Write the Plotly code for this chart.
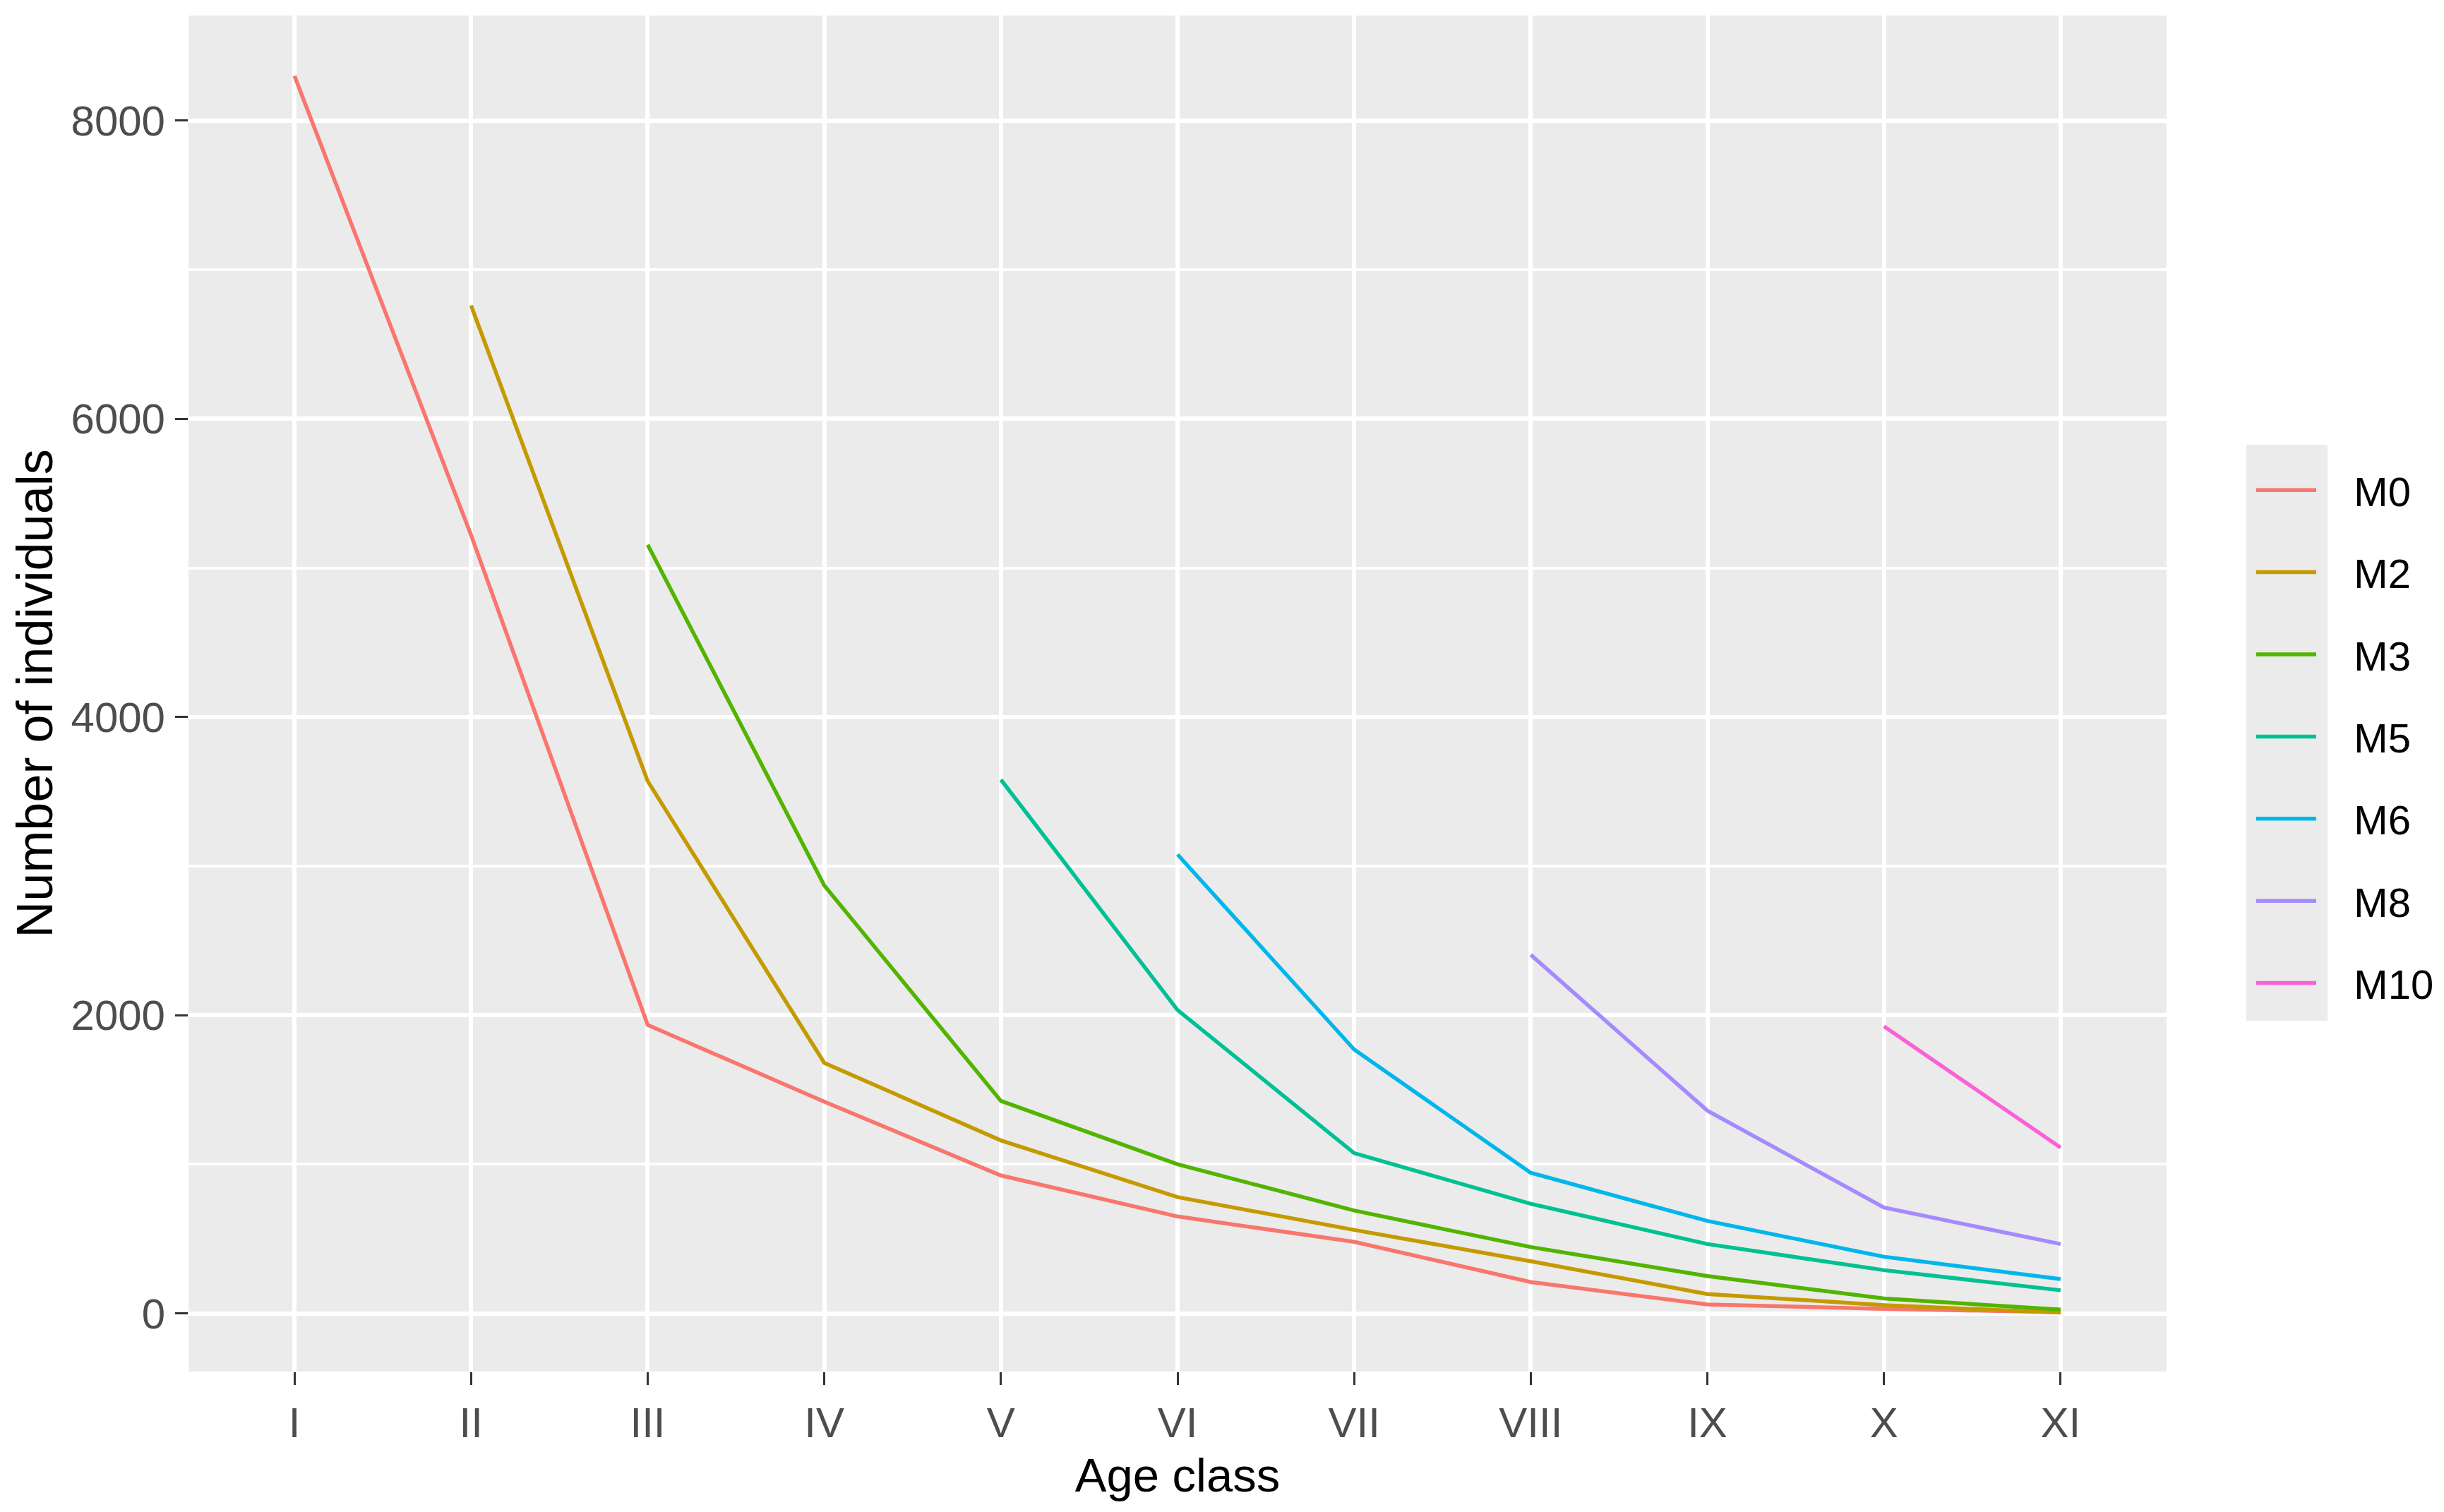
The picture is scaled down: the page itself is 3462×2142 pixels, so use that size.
import plotly.graph_objects as go

age_classes = ["I", "II", "III", "IV", "V", "VI", "VII", "VIII", "IX", "X", "XI"]

m0 = [8300, 5220, 1935, 1420, 925, 650, 480, 210, 60, 30, 8]
m2 = [None, 6760, 3570, 1680, 1160, 780, 560, 350, 130, 55, 5]
m3 = [None, None, 5155, 2870, 1425, 1000, 690, 445, 250, 100, 25]
m5 = [None, None, None, None, 3580, 2035, 1075, 735, 465, 290, 155]
m6 = [None, None, None, None, None, 3078, 1770, 943, 620, 380, 230]
m8 = [None, None, None, None, None, None, None, 2405, 1360, 710, 465]
m10 = [None, None, None, None, None, None, None, None, None, 1925, 1112]

series_names = ["M0", "M2", "M3", "M5", "M6", "M8", "M10"]
series_values = [m0, m2, m3, m5, m6, m8, m10]
colors = ["#F8766D", "#C49A00", "#53B400", "#00C094", "#00B6EB", "#A58AFF", "#FB61D7"]

y_ticks = [0, 2000, 4000, 6000, 8000]

# page body has an 8px margin, so the figure is drawn 8px smaller
W, H = 3454, 2134
L, T = 259, 14
PW, PH = 2802, 1921
R = W - L - PW
B = H - T - PH

font_family = "Liberation Sans, Arial, sans-serif"

fig = go.Figure()
for name, vals, col in zip(series_names, series_values, colors):
    fig.add_trace(go.Scatter(
        x=age_classes, y=vals, mode="lines",
        name="\u00a0\u00a0\u00a0" + name,
        line=dict(color=col, width=5.5), connectgaps=False,
        legendgroup=name,
    ))

def px_x(x):
    return (x - L) / PW

def px_y(y):
    return (T + PH - y) / PH

# gray background for legend keys
fig.add_shape(type="rect", xref="paper", yref="paper",
              x0=px_x(3174), x1=px_x(3289),
              y0=px_y(1438), y1=px_y(622),
              fillcolor="#EBEBEB", line=dict(width=0), layer="below")

fig.update_layout(
    width=W, height=H,
    margin=dict(l=L, r=R, t=T, b=B, autoexpand=False),
    paper_bgcolor="white",
    plot_bgcolor="#EBEBEB",
    font=dict(family=font_family, size=60, color="#4D4D4D"),
    showlegend=True,
    legend=dict(
        x=px_x(3183), y=px_y(642),
        xanchor="left", yanchor="top",
        bgcolor="rgba(0,0,0,0)",
        font=dict(size=58, color="black", family=font_family),
        tracegroupgap=38,
        itemwidth=85,
        title=dict(text=""),
    ),
    xaxis=dict(
        type="category",
        categoryorder="array", categoryarray=age_classes,
        range=[-0.6, 10.6],
        showgrid=True, gridcolor="white", gridwidth=6,
        ticks="outside", ticklen=18, tickwidth=3, tickcolor="#333333",
        tickfont=dict(size=60, color="#4D4D4D", family=font_family),
        ticklabelstandoff=2,
        zeroline=False, showline=False,
        title=dict(text="Age class", font=dict(size=67, color="black", family=font_family), standoff=18),
        automargin=False,
    ),
    yaxis=dict(
        range=[-390, 8705],
        tickvals=y_ticks, ticktext=[str(v) for v in y_ticks],
        showgrid=True, gridcolor="white", gridwidth=6,
        minor=dict(dtick=1000, tick0=1000, showgrid=True, gridcolor="white", gridwidth=4, ticks=""),
        ticks="outside", ticklen=18, tickwidth=3, tickcolor="#333333",
        tickfont=dict(size=60, color="#4D4D4D", family=font_family),
        ticklabelstandoff=2,
        zeroline=False, showline=False,
        title=dict(text="Number of individuals", font=dict(size=72, color="black", family=font_family), standoff=2),
        automargin=False,
    ),
)

fig.write_html("out.html")
